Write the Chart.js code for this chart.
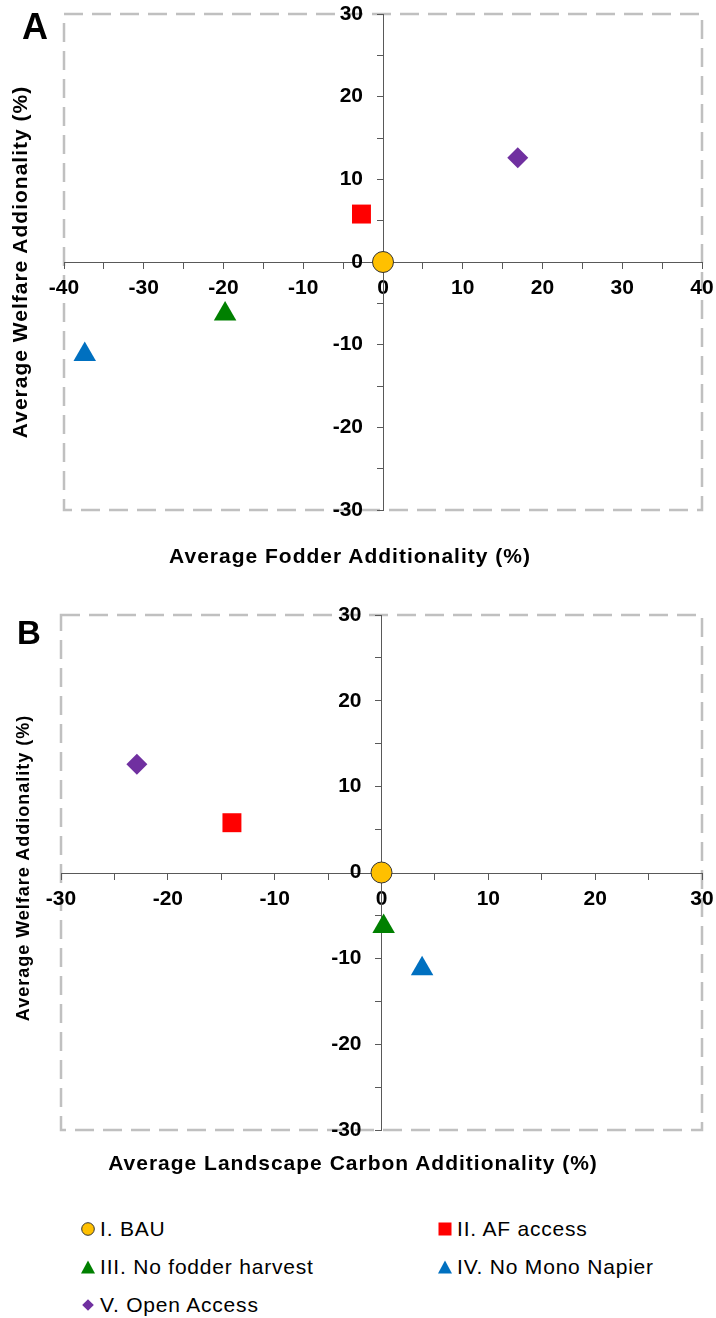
<!DOCTYPE html>
<html>
<head>
<meta charset="utf-8">
<script src="https://cdn.jsdelivr.net/npm/chart.js@4.4.1/dist/chart.umd.min.js"></script>
<style>
  html, body { margin: 0; padding: 0; background: #fff; }
  body { width: 716px; height: 1318px; position: relative; overflow: hidden;
         font-family: Arial, "Liberation Sans", sans-serif; color: #000; }
  canvas { position: absolute; left: 0; }
  .txt { position: absolute; white-space: nowrap; line-height: 1; transform: translate(-50%, -50%); }
  .panel { font-weight: bold; }
  .title { font-weight: bold; font-size: 21px; letter-spacing: 1px; }
  .rot { transform: translate(-50%, -50%) rotate(-90deg); }
  .legend-item { position: absolute; height: 24px; transform: translateY(-50%); display: flex; align-items: center;
                 font-size: 21px; letter-spacing: 0.8px; white-space: nowrap; }
  .legend-item svg { position: absolute; left: 0; }
  .legend-item span { margin-left: 20px; }
</style>
</head>
<body>
<canvas id="chartA" width="740" height="560" style="top:-16px"></canvas>
<canvas id="chartB" width="740" height="579" style="top:585px"></canvas>

<div class="txt panel" style="left:35px; top:27px; font-size:36px">A</div>
<div class="txt title rot" style="left:19px; top:262px">Average Welfare Addionality (%)</div>
<div class="txt title" style="left:350px; top:555px">Average Fodder Additionality (%)</div>

<div class="txt panel" style="left:29px; top:632px; font-size:33px">B</div>
<div class="txt title rot" style="left:23px; top:868px; font-size:18px">Average Welfare Addionality (%)</div>
<div class="txt title" style="left:353px; top:1162px">Average Landscape Carbon Additionality (%)</div>

<div id="legend"></div>

<script>
// scenario names and values
const scenarios = ['I. BAU', 'II. AF access', 'III. No fodder harvest', 'IV. No Mono Napier', 'V. Open Access'];
const fodderAdditionality = [0, -2.7, -19.8, -37.4, 16.9];
const carbonAdditionality = [0, -14.0, 0.2, 3.8, -22.9];
const welfareAdditionality = [0, 5.8, -6.3, -11.2, 12.6];

// labelled ticks on each axis
const fodderTicks = [-40, -30, -20, -10, 0, 10, 20, 30, 40];
const carbonTicks = [-30, -20, -10, 0, 10, 20, 30];
const welfareTicks = [-30, -20, -10, 0, 10, 20, 30];

// marker styling per scenario
const markerColors = ['#FFC000', '#FF0000', '#008000', '#0070C0', '#7030A0'];
const markerShapes = ['circle', 'rect', 'triangle', 'triangle', 'rectRot'];
const markerRadius = [10.5, 13.4, 13, 13, 10.5];

const FONT = 'Arial, "Liberation Sans", sans-serif';
const AXIS_GRAY = '#595959';

// dashed plot-area border, drawn under the axes
const plotFrame = {
  id: 'plotFrame',
  beforeDraw(chart) {
    const { ctx, chartArea: a } = chart;
    ctx.save();
    ctx.strokeStyle = '#c0c0c0';
    ctx.lineWidth = 2.5;
    ctx.setLineDash([19, 9]);
    ctx.strokeRect(a.left, a.top, a.right - a.left, a.bottom - a.top);
    ctx.restore();
  }
};

function axis(tickValues, labelPadding) {
  return {
    type: 'linear',
    position: 'center',
    min: tickValues[0],
    max: tickValues[tickValues.length - 1],
    grid: { drawOnChartArea: false, drawTicks: true, tickLength: 6, tickColor: AXIS_GRAY, tickWidth: 1 },
    border: { display: true, color: AXIS_GRAY, width: 1 },
    ticks: {
      stepSize: 5,
      autoSkip: false,
      maxRotation: 0,
      padding: labelPadding,
      color: '#000',
      font: { family: FONT, size: 21, weight: 'bold' },
      callback: v => tickValues.includes(v) ? String(v) : ''
    }
  };
}

function makeChart(id, xValues, xTicks, padding) {
  return new Chart(document.getElementById(id), {
    type: 'scatter',
    data: {
      datasets: scenarios.map((name, i) => ({
        label: name,
        data: [{ x: xValues[i], y: welfareAdditionality[i] }],
        pointStyle: markerShapes[i],
        pointRadius: markerRadius[i],
        pointHoverRadius: markerRadius[i],
        backgroundColor: markerColors[i],
        borderColor: i === 0 ? '#333' : markerColors[i],
        borderWidth: i === 0 ? 1 : 0
      }))
    },
    options: {
      responsive: false,
      animation: false,
      layout: { padding: padding },
      plugins: { legend: { display: false }, tooltip: { enabled: false } },
      scales: {
        x: axis(xTicks, 8),
        y: axis(welfareTicks, 14)
      }
    },
    plugins: [plotFrame]
  });
}

makeChart('chartA', fodderAdditionality, fodderTicks, { left: 64, right: 38, top: 30, bottom: 34 });
makeChart('chartB', carbonAdditionality, carbonTicks, { left: 61, right: 38, top: 30, bottom: 34 });

// legend in two columns below the panels
const legendCols = [88, 445];
const legendRows = [1229, 1267, 1305];
function markerSvg(i) {
  const c = markerColors[i];
  let shape;
  if (markerShapes[i] === 'circle') shape = `<circle cx="8" cy="8" r="6.3" fill="${c}" stroke="#333" stroke-width="1"/>`;
  else if (markerShapes[i] === 'rect') shape = `<rect x="1.5" y="1.5" width="13" height="13" fill="${c}"/>`;
  else if (markerShapes[i] === 'triangle') shape = `<polygon points="8,1.5 15,14.5 1,14.5" fill="${c}"/>`;
  else shape = `<polygon points="8,2.2 13.8,8 8,13.8 2.2,8" fill="${c}"/>`;
  return `<svg width="16" height="16" viewBox="0 0 16 16">${shape}</svg>`;
}
const legend = document.getElementById('legend');
scenarios.forEach((name, i) => {
  const item = document.createElement('div');
  item.className = 'legend-item';
  item.style.left = (legendCols[i % 2] - 8) + 'px';
  item.style.top = legendRows[Math.floor(i / 2)] + 'px';
  item.innerHTML = markerSvg(i) + `<span>${name}</span>`;
  legend.appendChild(item);
});
</script>
</body>
</html>
